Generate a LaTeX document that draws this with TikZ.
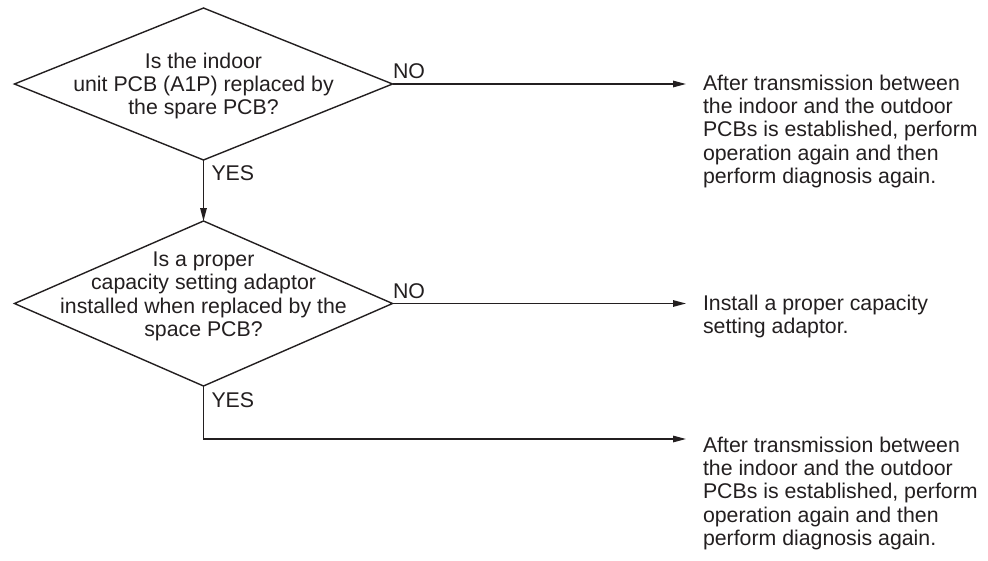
\documentclass[tikz,border=0pt]{standalone}
\usepackage{fontspec}
\setmainfont{Liberation Sans}
\usetikzlibrary{arrows.meta,shapes.geometric}
\definecolor{ink}{HTML}{231F20}
\begin{document}
\begin{tikzpicture}[x=1pt,y=-1pt,
  flow/.style={draw=ink, line width=1.4pt},
  arr/.style={flow, -{Triangle[length=13pt,width=6.5pt]}},
  dia/.style={diamond, draw=ink, line width=1.4pt, inner sep=0pt, outer sep=0pt, minimum width=378pt},
  txt/.style={inner sep=0pt, outer sep=0pt, text=ink, font=\fontsize{21.3}{23.4}\selectfont},
  lbl/.style={inner sep=0pt, outer sep=0pt, text=ink, font=\fontsize{21.3}{23.4}\selectfont}
]
\fill[white] (0,0) rectangle (988,560);
\useasboundingbox (0,0) rectangle (988,560);

% decision 1
\node[dia, minimum height=152pt] (d1) at (203.5,84) {};
\node[txt, align=center, anchor=north] (q1) at (203.5,52.7)
  {Is the indoor\\unit PCB (A1P) replaced by\\the spare PCB?};

% decision 2
\node[dia, minimum height=165pt] (d2) at (203.5,303.5) {};
\node[txt, align=center, anchor=north] (q2) at (203.5,251.9)
  {Is a proper\\capacity setting adaptor\\installed when replaced by the\\space PCB?};

% results
\node[txt, align=left, anchor=north west] (t1) at (703,74.7)
  {After transmission between\\the indoor and the outdoor\\PCBs is established, perform\\operation again and then\\perform diagnosis again.};
\node[txt, align=left, anchor=north west] (t2) at (703,294.7)
  {Install a proper capacity\\setting adaptor.};
\node[txt, align=left, anchor=north west] (t3) at (703,436.7)
  {After transmission between\\the indoor and the outdoor\\PCBs is established, perform\\operation again and then\\perform diagnosis again.};

\coordinate (c3) at (203.5,439);

% connectors
\draw[arr, shorten >=17pt] (d1.east) -- (d1.east -| t1.west);
\draw[arr] (d1.south) -- (d2.north);
\draw[arr, shorten >=17pt] (d2.east) -- (d2.east -| t2.west);
\draw[arr, shorten >=17pt] (d2.south) -- (c3) -- (c3 -| t3.west);

% labels
\node[lbl, anchor=base west] (no1) at (393,78.5) {NO};
\node[lbl, anchor=base west] (yes1) at (211.5,180) {YES};
\node[lbl, anchor=base west] (no2) at (393,298) {NO};
\node[lbl, anchor=base west] (yes2) at (211.5,407) {YES};
\end{tikzpicture}
\end{document}
